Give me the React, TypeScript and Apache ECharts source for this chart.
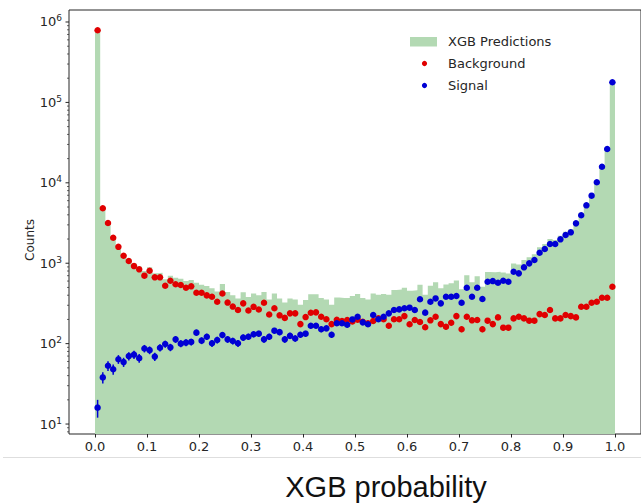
import React, { useEffect, useRef } from "react";
import * as echarts from "echarts";

// ---- data (100 bins of width 0.01 on [0, 1]) ----
const BIN_WIDTH = 0.01;

const xgbPredictions = [
  800000, 5000, 3250, 2150, 1680, 1310, 1140, 1000, 910, 800,
  890, 750, 760, 630, 700, 660, 640, 600, 620, 570,
  540, 520, 490, 445, 550, 440, 400, 365, 435, 380,
  420, 400, 440, 355, 420, 365, 325, 365, 355, 305,
  350, 410, 410, 370, 355, 305, 375, 370, 370, 390,
  415, 370, 355, 420, 405, 415, 405, 465, 470, 495,
  455, 460, 540, 405, 525, 580, 490, 545, 565, 610,
  475, 710, 580, 690, 510, 780, 775, 785, 765, 745,
  990, 965, 1095, 1190, 1290, 1585, 1730, 2000, 1940, 2190,
  2470, 2640, 3350, 4230, 5540, 7240, 10500, 16200, 26700, 178500,
];

const backgroundCounts = [
  790000, 4820, 3160, 2075, 1600, 1240, 1065, 922, 840, 700,
  807, 668, 668, 525, 606, 547, 536, 496, 516, 430,
  430, 398, 383, 332, 420, 324, 289, 262, 317, 258,
  287, 266, 323, 230, 275, 225, 209, 238, 238, 175,
  214, 242, 245, 216, 201, 175, 198, 191, 197, 189,
  199, 187, 179, 191, 206, 201, 167, 201, 201, 220,
  174, 197, 186, 160, 195, 216, 175, 162, 182, 220,
  151, 216, 195, 197, 151, 193, 175, 212, 158, 158,
  206, 216, 206, 193, 193, 233, 227, 262, 206, 206,
  227, 220, 212, 288, 288, 323, 332, 372, 372, 510,
];

const signalCounts = [
  16, 38, 53, 48, 64, 59, 70, 73, 66, 87,
  83, 69, 89, 99, 90, 113, 100, 103, 105, 137,
  109, 122, 101, 111, 128, 113, 108, 101, 119, 122,
  131, 133, 113, 122, 145, 139, 113, 125, 116, 129,
  133, 167, 167, 151, 155, 129, 179, 179, 172, 200,
  216, 184, 174, 227, 201, 216, 238, 262, 267, 275,
  280, 262, 356, 243, 332, 365, 317, 383, 383, 391,
  323, 496, 383, 496, 359, 589, 600, 571, 606, 589,
  784, 748, 889, 996, 1096, 1352, 1502, 1734, 1734, 1983,
  2243, 2422, 3133, 3944, 5248, 6918, 10160, 15850, 26300, 178000,
];

const xTicks = [0, 0.1, 0.2, 0.3, 0.4, 0.5, 0.6, 0.7, 0.8, 0.9, 1.0];
const yMajorTicks = [10, 100, 1000, 10000, 100000, 1000000];
const yMinorTicks = [
  8, 9,
  20, 30, 40, 50, 60, 70, 80, 90,
  200, 300, 400, 500, 600, 700, 800, 900,
  2000, 3000, 4000, 5000, 6000, 7000, 8000, 9000,
  20000, 30000, 40000, 50000, 60000, 70000, 80000, 90000,
  200000, 300000, 400000, 500000, 600000, 700000, 800000, 900000,
];

const X_MIN = -0.05;
const X_MAX = 1.05;
const Y_MIN = 7.52;
const Y_MAX = 1.41e6;

const GREEN = "#b3d9b3";
const RED = "#e00000";
const BLUE = "#0000d4";
const INK = "#262626";
const FONT = "DejaVu Sans";

export default function App() {
  const ref = useRef<HTMLDivElement>(null);

  useEffect(() => {
    if (!ref.current) return;
    document.body.style.margin = "0";
    const chart = echarts.init(ref.current, null, { renderer: "svg" });

    const histData: number[][] = xgbPredictions.map((c, i) => [i * BIN_WIDTH, c]);
    histData.push([xgbPredictions.length * BIN_WIDTH, xgbPredictions[xgbPredictions.length - 1]]);

    const centers = backgroundCounts.map((_, i) => (i + 0.5) * BIN_WIDTH);
    const bgData = backgroundCounts.map((c, i) => [centers[i], c]);
    const sigData = signalCounts.map((c, i) => [centers[i], c]);

    const errorBars = (color: string) => (params: any, api: any) => {
      const x = api.value(0);
      const v = api.value(1);
      const e = Math.sqrt(v);
      const lo = api.coord([x, Math.max(v - e, Y_MIN)]);
      const hi = api.coord([x, v + e]);
      return {
        type: "line",
        shape: { x1: lo[0], y1: lo[1], x2: hi[0], y2: hi[1] },
        style: { stroke: color, lineWidth: 1.5 },
      };
    };

    const tickData = [
      ...yMajorTicks.map((v) => [X_MIN, v, 1]),
      ...yMinorTicks.map((v) => [X_MIN, v, 0]),
    ];

    chart.setOption({
      animation: false,
      grid: {
        left: 69,
        top: 10,
        right: -10,
        bottom: 70,
        show: true,
        borderColor: INK,
        borderWidth: 1,
        backgroundColor: "transparent",
      },
      xAxis: {
        type: "value",
        min: X_MIN,
        max: X_MAX,
        axisLine: { show: false },
        splitLine: { show: false },
        axisTick: {
          show: true,
          customValues: xTicks,
          length: 3.5,
          lineStyle: { color: INK, width: 1 },
        },
        axisLabel: {
          customValues: xTicks,
          formatter: (v: number) => v.toFixed(1),
          margin: 6,
          fontSize: 13,
          color: INK,
          fontFamily: FONT,
        },
      },
      yAxis: {
        type: "log",
        logBase: 10,
        min: Y_MIN,
        max: Y_MAX,
        axisLine: { show: false },
        axisTick: { show: false },
        splitLine: { show: false },
        minorTick: { show: false },
        axisLabel: {
          showMinLabel: true,
          showMaxLabel: true,
          margin: 7,
          formatter: (v: number) => {
            const l = Math.log10(v);
            const r = Math.round(l);
            if (Math.abs(l - r) > 1e-6) return "";
            return `{b|10}{s|${r}}`;
          },
          rich: {
            b: { fontSize: 13, fontFamily: FONT, color: INK, lineHeight: 16 },
            s: { fontSize: 9, fontFamily: FONT, color: INK, verticalAlign: "top", lineHeight: 9 },
          },
        },
      },
      series: [
        {
          name: "XGB Predictions",
          type: "line",
          data: histData,
          step: "end",
          showSymbol: false,
          lineStyle: { width: 0, opacity: 0 },
          areaStyle: { color: GREEN, opacity: 1, origin: "start" },
          z: 1,
        },
        {
          name: "Background errors",
          type: "custom",
          data: bgData,
          renderItem: errorBars(RED),
          z: 2,
        },
        {
          name: "Background",
          type: "scatter",
          data: bgData,
          symbol: "circle",
          symbolSize: 6.5,
          itemStyle: { color: RED, opacity: 1 },
          z: 3,
        },
        {
          name: "Signal errors",
          type: "custom",
          data: sigData,
          renderItem: errorBars(BLUE),
          z: 4,
        },
        {
          name: "Signal",
          type: "scatter",
          data: sigData,
          symbol: "circle",
          symbolSize: 6.5,
          itemStyle: { color: BLUE, opacity: 1 },
          z: 5,
        },
        {
          name: "y ticks",
          type: "custom",
          data: tickData,
          clip: false,
          silent: true,
          renderItem: (params: any, api: any) => {
            const p = api.coord([api.value(0), api.value(1)]);
            const major = api.value(2) === 1;
            const len = major ? 3.5 : 2;
            return {
              type: "line",
              shape: { x1: p[0] - len, y1: p[1], x2: p[0], y2: p[1] },
              style: { stroke: INK, lineWidth: major ? 1 : 0.7 },
            };
          },
          z: 6,
        },
      ],
      graphic: [
        { type: "rect", shape: { x: 410, y: 37, width: 27, height: 9.5 }, style: { fill: GREEN } },
        {
          type: "text",
          x: 448,
          y: 41.5,
          style: { text: "XGB Predictions", font: `13px "${FONT}"`, fill: INK, verticalAlign: "middle" },
        },
        { type: "circle", shape: { cx: 424.5, cy: 63.5, r: 2.6 }, style: { fill: RED } },
        {
          type: "text",
          x: 448,
          y: 63.5,
          style: { text: "Background", font: `13px "${FONT}"`, fill: INK, verticalAlign: "middle" },
        },
        { type: "circle", shape: { cx: 424.5, cy: 85.5, r: 2.6 }, style: { fill: BLUE } },
        {
          type: "text",
          x: 448,
          y: 85.5,
          style: { text: "Signal", font: `13px "${FONT}"`, fill: INK, verticalAlign: "middle" },
        },
        {
          type: "text",
          x: 30,
          y: 240,
          rotation: Math.PI / 2,
          style: { text: "Counts", font: `12px "${FONT}"`, fill: INK, align: "center", verticalAlign: "middle" },
        },
        {
          type: "line",
          shape: { x1: 3, y1: 457.5, x2: 641, y2: 457.5 },
          style: { stroke: "#dedede", lineWidth: 1 },
        },
        {
          type: "text",
          x: 386,
          y: 487,
          style: {
            text: "XGB probability",
            font: `29px "Liberation Sans", Arial, sans-serif`,
            fill: "#111",
            align: "center",
            verticalAlign: "middle",
          },
        },
      ],
    });

    return () => chart.dispose();
  }, []);

  return <div ref={ref} style={{ width: 641, height: 504 }} />;
}
